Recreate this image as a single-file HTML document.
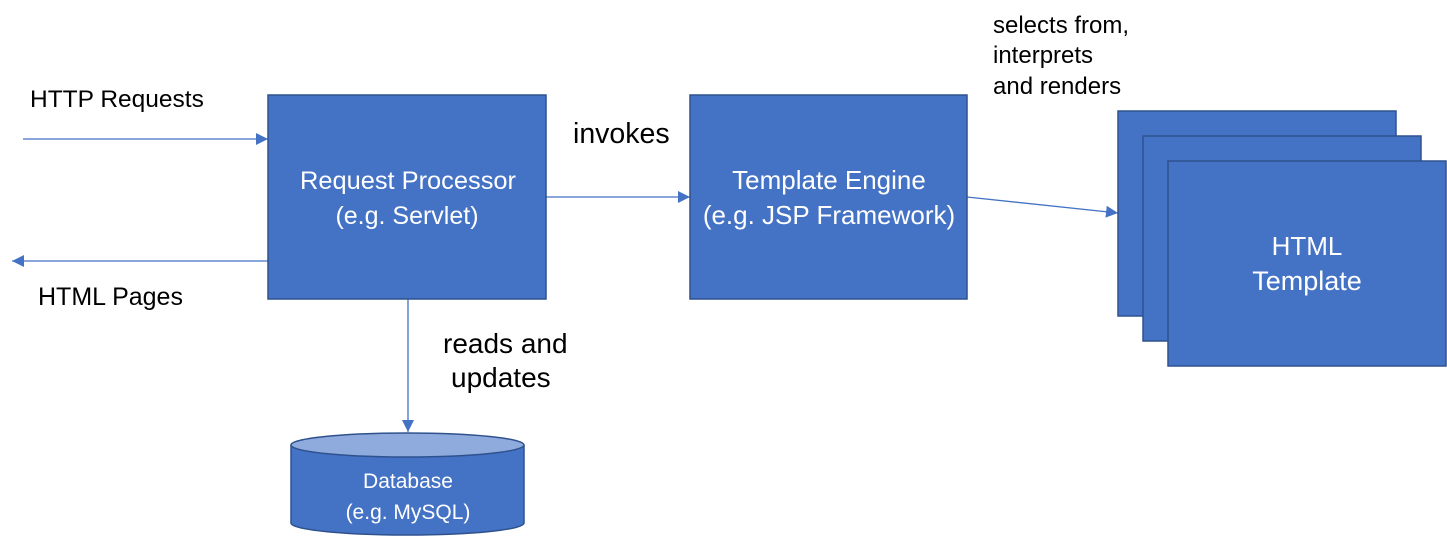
<!DOCTYPE html>
<html><head><style>body{margin:0;background:#fff}svg{display:block}</style></head><body>
<svg width="1447" height="545" xmlns="http://www.w3.org/2000/svg" font-family="Liberation Sans, sans-serif">
<defs><marker id="a" markerWidth="14" markerHeight="14" refX="12" refY="6" orient="auto" markerUnits="userSpaceOnUse"><path d="M0,0 L12,6 L0,12z" fill="#4472C4"/></marker></defs>
<g stroke="#4472C4" stroke-width="1.3" fill="none" marker-end="url(#a)">
<line x1="23" y1="139" x2="268" y2="139"/>
<line x1="268" y1="261" x2="12" y2="261"/>
<line x1="546" y1="197" x2="690" y2="197"/>
<line x1="967" y1="197" x2="1118" y2="213"/>
<line x1="408" y1="299" x2="408" y2="432"/>
</g>
<g fill="#4472C4" stroke="#2F528F" stroke-width="1.5">
<rect x="268" y="95" width="278" height="204"/>
<rect x="690" y="95" width="277" height="204"/>
<rect x="1118" y="111" width="278" height="205"/>
<rect x="1143" y="136" width="278" height="205"/>
<rect x="1168" y="161" width="278" height="205"/>
<path d="M291,445 L291,523 A116.5,12 0 0 0 524,523 L524,445"/>
<ellipse cx="407.5" cy="445" rx="116.5" ry="12" fill="#8FAADC"/>
</g>
<g fill="#fff" font-size="25" text-anchor="middle">
<text x="408" y="189" textLength="216" lengthAdjust="spacingAndGlyphs">Request  Processor</text>
<text x="407" y="224">(e.g. Servlet)</text>
<text x="829" y="189" font-size="26">Template Engine</text>
<text x="829" y="224" font-size="26">(e.g. JSP Framework)</text>
<text x="1307" y="255" font-size="26">HTML</text>
<text x="1307" y="290" font-size="27">Template</text>
<text x="408" y="488" font-size="21">Database</text>
<text x="408" y="519" font-size="21">(e.g. MySQL)</text>
</g>
<g fill="#000">
<text x="30" y="107" font-size="24.5">HTTP Requests</text>
<text x="38" y="305" font-size="25">HTML Pages</text>
<text x="573" y="143" font-size="28.5">invokes</text>
<text x="443" y="353" font-size="28">reads and</text>
<text x="451" y="387" font-size="28">updates</text>
</g>
<g fill="#000" font-size="24">
<text x="993" y="33">selects from,</text>
<text x="993" y="63">interprets</text>
<text x="993" y="94">and renders</text>
</g>
</svg>
</body></html>
